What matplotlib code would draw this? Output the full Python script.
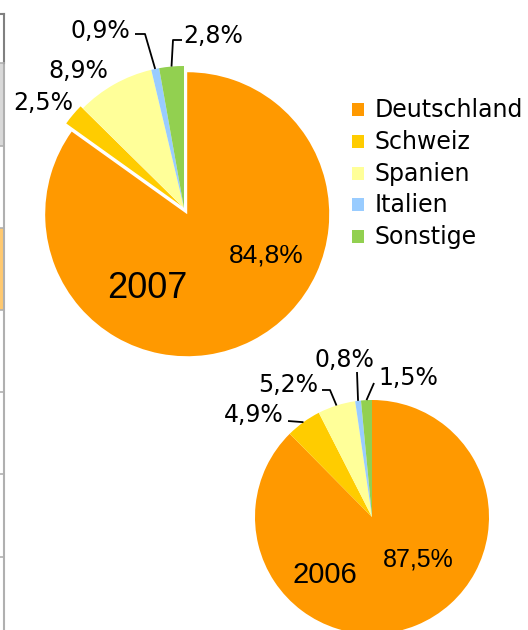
"""
Herkunft der Gäste 2007 vs. 2006 - two pie charts with shared legend.
Axes are laid out in pixel units (528 x 630), y pointing down.
"""

import numpy as np
import matplotlib.pyplot as plt
from matplotlib.patches import Rectangle

countries = ["Deutschland", "Schweiz", "Spanien", "Italien", "Sonstige"]
colors = ["#FF9900", "#FFCC00", "#FFFF99", "#99CCFF", "#92D050"]

shares_2007 = [84.8, 2.5, 8.9, 0.9, 2.8]
shares_2006 = [87.5, 4.9, 5.2, 0.8, 1.5]


def fmt(v):
    return f"{v:.1f}%".replace(".", ",")


def wedge_edge(w):
    """Point on the outer rim in the middle of a wedge."""
    t = np.deg2rad((w.theta1 + w.theta2) / 2)
    return w.center[0] + w.r * np.cos(t), w.center[1] + w.r * np.sin(t)


def leader(ax, pts, w):
    xs = [p[0] for p in pts] + [wedge_edge(w)[0]]
    ys = [p[1] for p in pts] + [wedge_edge(w)[1]]
    ax.plot(xs, ys, color="black", lw=1.3, solid_capstyle="butt")


fig = plt.figure(figsize=(5.28, 6.3), dpi=100)
ax = fig.add_axes([0, 0, 1, 1])

# y axis is inverted later, so startangle=270 + counterclock puts the first
# slice at 12 o'clock running clockwise on screen
w07, _ = ax.pie(shares_2007, colors=colors, startangle=270, counterclock=True,
                center=(184, 208), radius=142, explode=[7, 3, 0, 0, 0],
                wedgeprops=dict(linewidth=0))
w06, _ = ax.pie(shares_2006, colors=colors, startangle=270, counterclock=True,
                center=(372, 517), radius=117,
                wedgeprops=dict(linewidth=0))

ax.set_xlim(0, 528)
ax.set_ylim(630, 0)
ax.set_aspect("equal")
ax.axis("off")

lab = dict(fontsize=17, family="DejaVu Sans", ha="center", va="baseline")
big = dict(family="Liberation Sans", ha="center", va="baseline")

# 2007 labels
ax.text(266, 262, fmt(shares_2007[0]), fontsize=19, **big)
ax.text(147, 298, "2007", fontsize=26, **big)
ax.text(43, 110, fmt(shares_2007[1]), **lab)
ax.text(78, 78, fmt(shares_2007[2]), **lab)
ax.text(100, 38, fmt(shares_2007[3]), **lab)
ax.text(213, 43, fmt(shares_2007[4]), **lab)
leader(ax, [(135, 34), (145, 34)], w07[3])
leader(ax, [(182, 40), (173, 40)], w07[4])

# 2006 labels
ax.text(418, 567, fmt(shares_2006[0]), fontsize=18, **big)
ax.text(325, 583, "2006", fontsize=21, **big)
ax.text(254, 422, fmt(shares_2006[1]), **lab)
ax.text(288, 392, fmt(shares_2006[2]), **lab)
ax.text(344, 367, fmt(shares_2006[3]), **lab)
ax.text(408, 385, fmt(shares_2006[4]), **lab)
leader(ax, [(288, 421)], w06[1])
leader(ax, [(322, 390), (330, 390)], w06[2])
leader(ax, [(357, 372)], w06[3])
leader(ax, [(374, 383)], w06[4])

# legend
for i, (name, c) in enumerate(zip(countries, colors)):
    base = 117 + i * 31.8
    ax.add_patch(Rectangle((352, base - 14), 12, 13, facecolor=c, linewidth=0))
    ax.text(375, base, name, fontsize=17, family="DejaVu Sans",
            ha="left", va="baseline")

# edge of the neighbouring table, cut off at the left border
ax.add_patch(Rectangle((0, 63), 3, 83, facecolor="#D9D9D9", linewidth=0))
ax.add_patch(Rectangle((0, 228), 3, 82, facecolor="#FFC970", linewidth=0))
ax.plot([3.5, 3.5], [63, 630], color="#B0B0B0", lw=1.5)
ax.plot([3.5, 3.5], [14, 63], color="#808080", lw=1.5)
ax.plot([0, 4], [14, 14], color="#808080", lw=1.5)
for y in [63, 146, 228, 310, 392, 474, 557]:
    ax.plot([0, 4], [y, y], color="#B0B0B0", lw=1.2)

fig.savefig("out.png", dpi=100)
